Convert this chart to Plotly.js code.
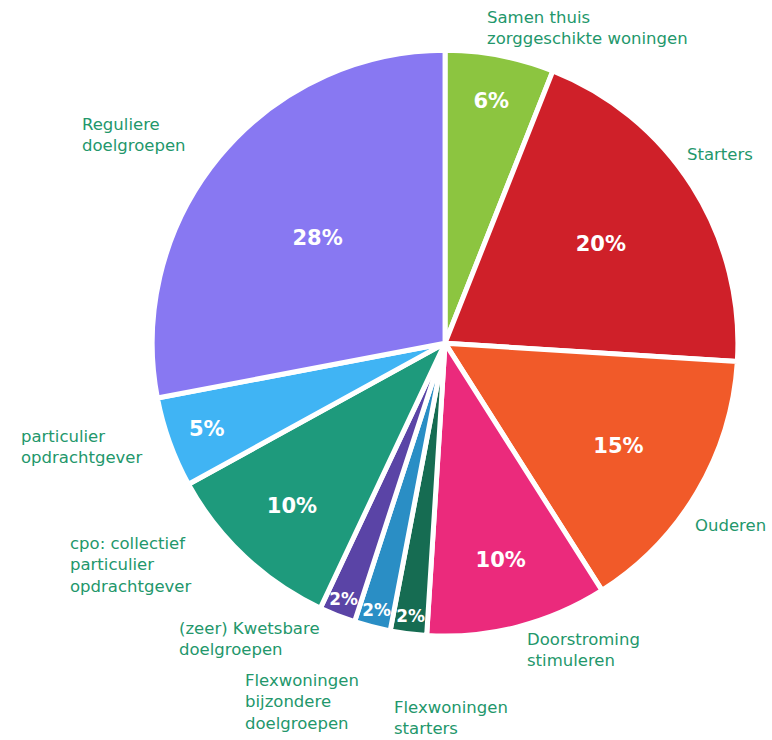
<!DOCTYPE html>
<html>
<head>
<meta charset="utf-8">
<script src="https://cdn.plot.ly/plotly-3.0.1.min.js"></script>
<style>html,body{margin:0;padding:0;background:#fff;}#chart{width:772px;height:740px;}</style>
</head>
<body>
<div id="chart"></div>
<script>
const categories = [
  "Samen thuis<br>zorggeschikte woningen",
  "Starters",
  "Ouderen",
  "Doorstroming<br>stimuleren",
  "Flexwoningen<br>starters",
  "Flexwoningen<br>bijzondere<br>doelgroepen",
  "(zeer) Kwetsbare<br>doelgroepen",
  "cpo: collectief<br>particulier<br>opdrachtgever",
  "particulier<br>opdrachtgever",
  "Reguliere<br>doelgroepen"
];
const values = [6, 20, 15, 10, 2, 2, 2, 10, 5, 28];
const colors = ["#8cc540", "#cf2029", "#f15a29", "#eb2a7c", "#166c52", "#2a8ec5", "#5a44a6", "#1e9a7c", "#40b4f4", "#8878f2"];

// label anchor points in pixels (left edge, vertical centre of the text block)
const labelPos = [[485, 28], [685, 155], [693, 525], [525, 650], [392, 718], [243, 702], [177, 639], [68, 565], [19, 447], [80, 135]];

const W = 772, H = 740;
const domain = {x: [0.197, 0.956], y: [0.1405, 0.932]};

const pie = {
  type: "pie",
  values: values,
  labels: categories,
  sort: false,
  direction: "clockwise",
  rotation: 0,
  domain: domain,
  marker: {colors: colors, line: {color: "#ffffff", width: 5}},
  texttemplate: "%{percent:.0%}",
  textposition: "inside",
  insidetextorientation: "horizontal",
  textfont: {family: "DejaVu Sans, sans-serif", size: 21, color: "#ffffff", weight: 700},
  hoverinfo: "label+percent",
  showlegend: false
};

const annotations = categories.map((c, i) => ({
  text: c,
  xref: "paper", yref: "paper",
  x: labelPos[i][0] / W,
  y: 1 - labelPos[i][1] / H,
  xanchor: "left", yanchor: "middle",
  align: "left",
  showarrow: false,
  font: {family: "DejaVu Sans, sans-serif", size: 16.5, color: "#23976b"}
}));

Plotly.newPlot("chart", [pie], {
  width: W, height: H,
  margin: {l: 0, r: 0, t: 0, b: 0},
  paper_bgcolor: "#ffffff",
  showlegend: false,
  annotations: annotations
}, {displayModeBar: false, staticPlot: true});
</script>
</body>
</html>
